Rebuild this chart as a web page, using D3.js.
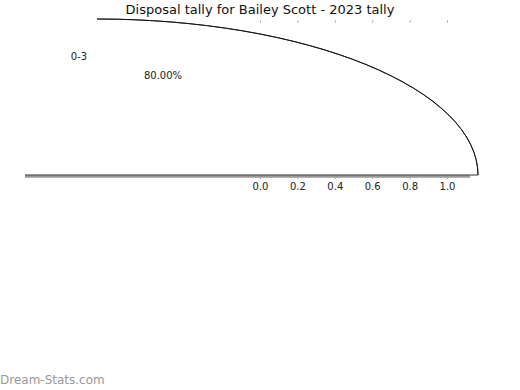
<!DOCTYPE html>
<html>
<head>
<meta charset="utf-8">
<script src="https://cdn.jsdelivr.net/npm/d3@7"></script>
<style>
  body { margin: 0; background: #fff; }
  text { font-family: "DejaVu Sans", sans-serif; }
</style>
</head>
<body>
<div id="chart"></div>
<script>
const categories = ["0-3"];
const shares = [0.8];
const shareLabels = ["80.00%"];
const tickValues = [0, 0.2, 0.4, 0.6, 0.8, 1.0];

const W = 520, H = 390;
const svg = d3.select("#chart").append("svg")
  .attr("width", W).attr("height", H);

// axis scale: 0..1 across the plot
const x = d3.scaleLinear().domain([0, 1]).range([260, 447]);
const axisY = 175;
const center = { x: 97, y: axisY };
const rx = 381, ry = 156;

// title
svg.append("text")
  .attr("x", 260).attr("y", 14)
  .attr("text-anchor", "middle")
  .attr("font-size", 13)
  .attr("fill", "#111")
  .text("Disposal tally for Bailey Scott - 2023 tally");

// wedge outline (quarter visible), drawn in unit space then scaled
const arc = d3.arc().innerRadius(1).outerRadius(1)
  .startAngle(0).endAngle(Math.PI / 2 * (shares[0] / 0.8));
svg.append("path")
  .attr("d", arc())
  .attr("transform", `translate(${center.x},${center.y}) scale(${rx},${ry})`)
  .attr("fill", "none")
  .attr("stroke", "#111")
  .attr("stroke-width", 0.9)
  .attr("vector-effect", "non-scaling-stroke");

// axis base lines
svg.append("line")
  .attr("x1", 25).attr("x2", 470)
  .attr("y1", axisY + 1.5).attr("y2", axisY + 1.5)
  .attr("stroke", "#999").attr("stroke-width", 2.5);
svg.append("line")
  .attr("x1", 25).attr("x2", center.x + rx)
  .attr("y1", axisY).attr("y2", axisY)
  .attr("stroke", "#333").attr("stroke-width", 1);

// bottom ticks + labels
const axis = svg.append("g").attr("transform", `translate(0,${axisY + 2})`)
  .call(d3.axisBottom(x).tickValues(tickValues).tickFormat(d3.format(".1f")).tickSize(2).tickPadding(4));
axis.select(".domain").remove();
axis.selectAll(".tick line").attr("stroke", "#aaa");
axis.selectAll(".tick text").attr("font-size", 10).attr("fill", "#222")
  .attr("font-family", "DejaVu Sans, sans-serif");

// top ticks
const topAxis = svg.append("g").attr("transform", "translate(0,20)")
  .call(d3.axisBottom(x).tickValues(tickValues).tickFormat("").tickSize(3));
topAxis.select(".domain").remove();
topAxis.selectAll(".tick line").attr("stroke", "#bbb");

// labels
svg.append("text").attr("x", 79).attr("y", 60)
  .attr("text-anchor", "middle").attr("font-size", 10).attr("fill", "#222")
  .text(categories[0]);
svg.append("text").attr("x", 163).attr("y", 79)
  .attr("text-anchor", "middle").attr("font-size", 10).attr("fill", "#222")
  .text(shareLabels[0]);

// watermark
svg.append("text").attr("x", 0).attr("y", 384)
  .attr("font-size", 12).attr("fill", "#999")
  .attr("font-family", "Open Sans, sans-serif")
  .text("Dream-Stats.com");
</script>
</body>
</html>
